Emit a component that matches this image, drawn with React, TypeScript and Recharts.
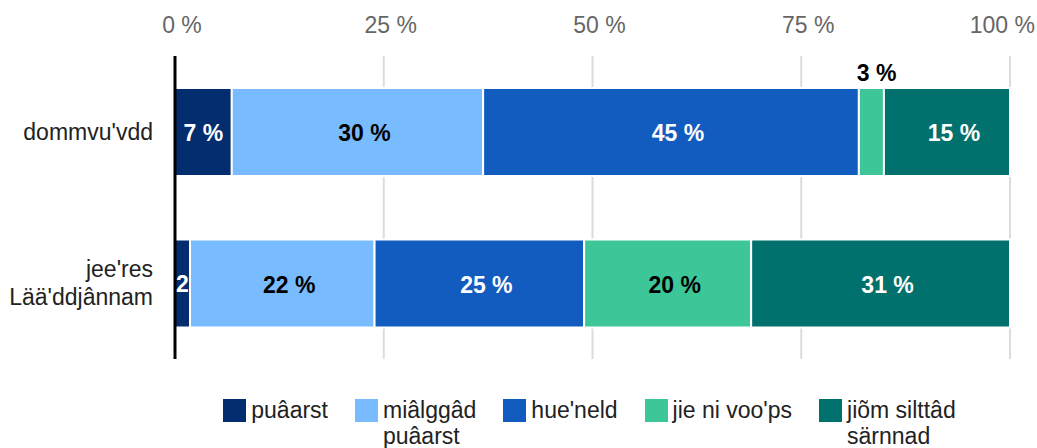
import { BarChart, Bar, XAxis, YAxis, CartesianGrid, LabelList } from "recharts";

const categories = ["dommvu'vdd", "jee'res\nLää'ddjânnam"];
const seriesNames = ["puâarst", "miâlggâd\npuâarst", "hue'neld", "jie ni voo'ps", "jiõm silttâd\nsärnnad"];
const seriesKeys = ["s1", "s2", "s3", "s4", "s5"];
const s1 = [6.8, 1.8];
const s2 = [30.1, 22.1];
const s3 = [45.0, 25.1];
const s4 = [3.0, 20.0];
const s5 = [15.1, 31.0];
const xTicks = [0, 25, 50, 75, 100];

const colors = ["#032d6e", "#79bbff", "#125bbf", "#3dc697", "#00716d"];
const labelColors = ["#fff", "#000", "#fff", "#000", "#fff"];
const FONT = "Arial, 'Liberation Sans', sans-serif";

const data = categories.map((name, i) => ({
  name,
  s1: s1[i],
  s2: s2[i],
  s3: s3[i],
  s4: s4[i],
  s5: s5[i],
}));

function TopTick({ x, payload }: any) {
  const last = payload.value === xTicks[xTicks.length - 1];
  return (
    <text
      x={last ? x + 25 : x + 7}
      y={33}
      textAnchor={last ? "end" : "middle"}
      fill="#666"
      fontSize={23}
      fontFamily={FONT}
    >
      {payload.value} %
    </text>
  );
}

function LeftTick({ x, y, payload }: any) {
  const lines = String(payload.value).split("\n");
  const lh = 28;
  const start = y - ((lines.length - 1) * lh) / 2;
  return (
    <text x={x - 14} y={start} textAnchor="end" fill="#222" fontSize={23} fontFamily={FONT} dominantBaseline="central">
      {lines.map((l, i) => (
        <tspan key={i} x={x - 14} y={start + i * lh}>
          {l}
        </tspan>
      ))}
    </text>
  );
}

function makeLabel(idx: number) {
  return (props: any) => {
    const { x, y, width, height, value } = props;
    if (value == null) return null;
    const v = Math.round(value);
    if (value < 2.5) {
      return (
        <text x={x + width / 2} y={y + height / 2} textAnchor="middle" dominantBaseline="central"
          fill={labelColors[idx]} fontSize={23} fontWeight="bold" fontFamily={FONT}>
          {v}
        </text>
      );
    }
    if (value < 5) {
      return (
        <text x={x - 2} y={y - 7} textAnchor="start"
          fill="#000" fontSize={23} fontWeight="bold" fontFamily={FONT}>
          {v} %
        </text>
      );
    }
    // wide segments: label sits a little right of centre, as in the source
    const dx = width > 80 ? 7 : 0;
    return (
      <text x={x + width / 2 + dx} y={y + height / 2 + 1} textAnchor="middle" dominantBaseline="central"
        fill={labelColors[idx]} fontSize={23} fontWeight="bold" fontFamily={FONT}>
        {v} %
      </text>
    );
  };
}

export default function App() {
  return (
    <div style={{ position: "absolute", left: 0, top: 0, width: 1037, height: 448, background: "#fff", fontFamily: FONT }}>
      <BarChart
        width={1037}
        height={448}
        data={data}
        layout="vertical"
        margin={{ top: 26, right: 27, bottom: 89, left: 0 }}
      >
        <CartesianGrid horizontal={false} stroke="#dcdcdc" strokeWidth={2} />
        <XAxis
          type="number"
          orientation="top"
          domain={[0, 100]}
          ticks={xTicks}
          height={30}
          axisLine={false}
          tickLine={false}
          tick={<TopTick />}
          interval={0}
        />
        <YAxis
          type="category"
          dataKey="name"
          width={175}
          axisLine={{ stroke: "#000", strokeWidth: 3 }}
          tickLine={false}
          tick={<LeftTick />}
          interval={0}
        />
        {seriesKeys.map((k, i) => (
          <Bar key={k} dataKey={k} stackId="a" fill={colors[i]} stroke="#fff" strokeWidth={2} barSize={88} isAnimationActive={false}>
            <LabelList dataKey={k} content={makeLabel(i)} />
          </Bar>
        ))}
      </BarChart>
      <div
        style={{
          position: "absolute",
          left: 172,
          top: 397,
          width: 835,
          display: "flex",
          justifyContent: "center",
          gap: 27,
          fontSize: 23,
          lineHeight: "26px",
          color: "#222",
        }}
      >
        {seriesNames.map((n, i) => (
          <div key={n} style={{ display: "flex", alignItems: "flex-start" }}>
            <div style={{ width: 23, height: 23, background: colors[i], marginTop: 2, marginRight: 5, flexShrink: 0 }} />
            <div style={{ whiteSpace: "pre-line" }}>{n}</div>
          </div>
        ))}
      </div>
    </div>
  );
}
